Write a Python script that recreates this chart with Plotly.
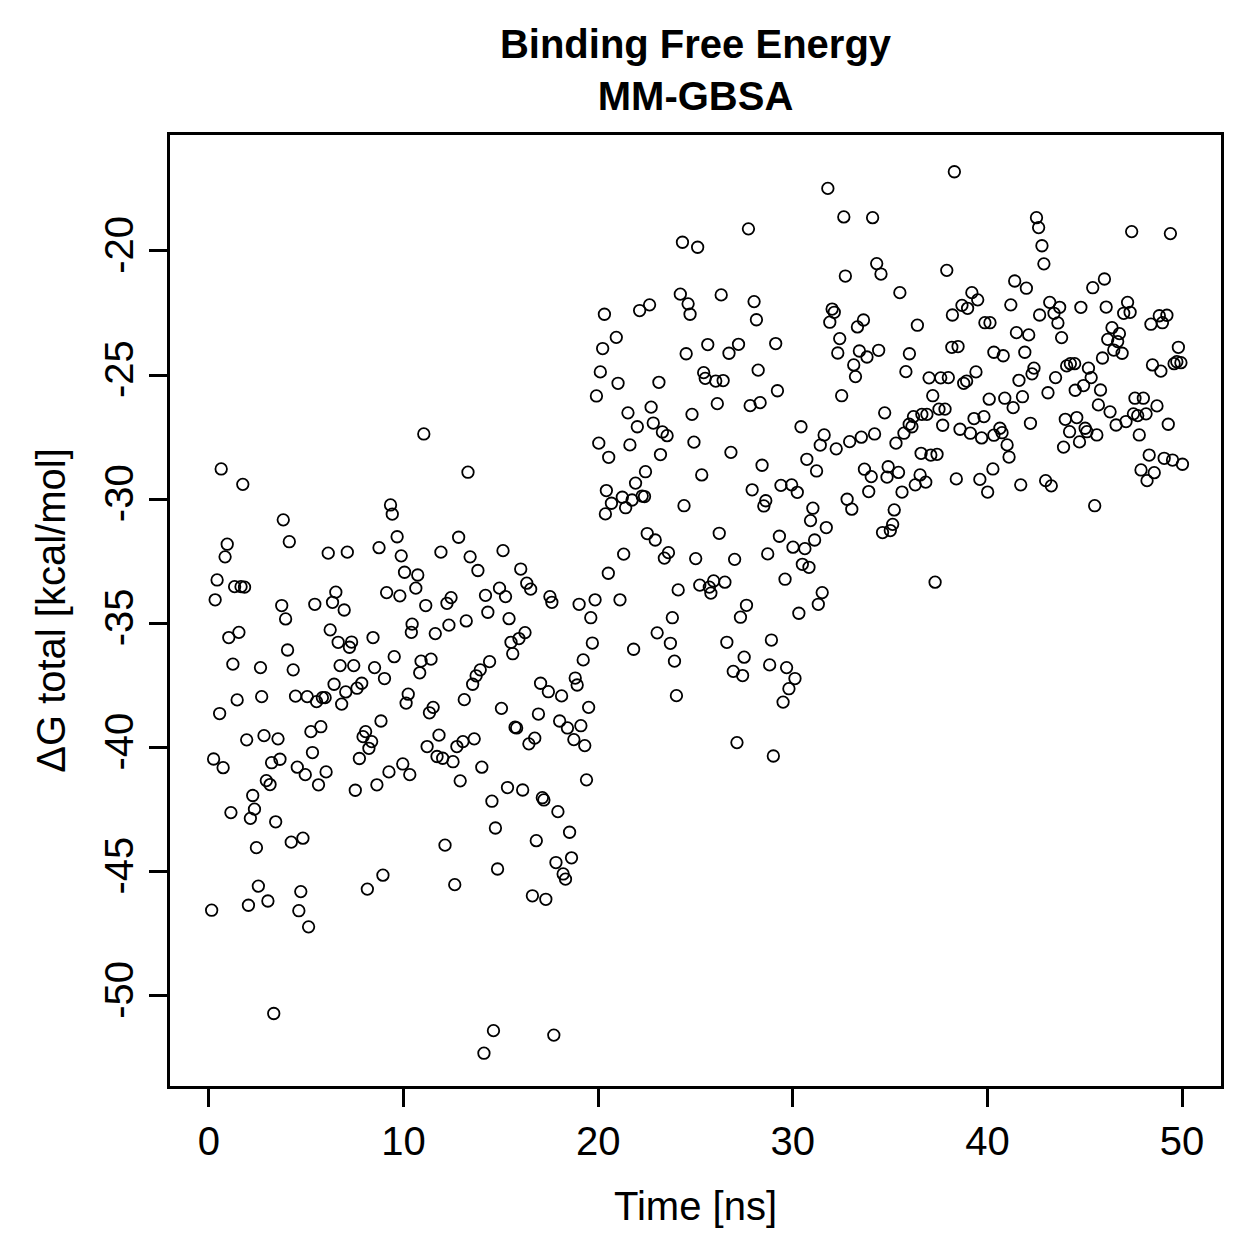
import plotly.graph_objects as go

# Time (ns) of each MM-GBSA frame
time_ns = [
    0.63, 1.74, 3.82, 4.13, 0.94, 0.83, 6.13, 7.11, 8.74, 9.33,
    9.42, 0.42, 0.32, 1.32, 1.65, 1.83, 3.74, 3.94, 5.44, 6.52,
    6.35, 6.95, 9.13, 6.23, 6.64, 7.33, 7.22, 8.43, 1.02, 1.54,
    4.04, 1.23, 2.65, 4.33, 6.74, 7.44, 8.51, 9.02, 9.52, 6.43,
    7.03, 7.61, 7.85, 6.82, 1.45, 2.71, 4.45, 5.05, 5.53, 5.83,
    5.97, 0.55, 8.84, 1.94, 2.83, 3.55, 5.24, 5.75, 8.05, 7.92,
    8.36, 8.22, 0.24, 0.73, 3.22, 3.65, 5.32, 4.54, 4.95, 6.02,
    5.63, 2.95, 3.14, 2.25, 1.13, 2.34, 2.13, 3.43, 2.44, 4.23,
    4.83, 7.73, 7.52, 8.63, 9.25, 9.96, 8.94, 8.14, 2.54, 2.03,
    3.03, 0.14, 4.72, 4.62, 5.12, 3.33, 11.04, 20.03, 20.54, 13.31,
    20.42, 20.68, 20.37, 12.83, 11.92, 13.42, 13.82, 15.11, 16.02, 16.33,
    16.53, 9.67, 9.88, 10.05, 10.73, 10.63, 9.81, 11.14, 12.23, 12.44,
    14.21, 14.93, 15.24, 14.33, 15.42, 17.52, 17.62, 19.02, 19.84, 19.62,
    20.52, 10.44, 10.40, 11.63, 12.33, 13.22, 15.52, 15.93, 16.24, 15.61,
    19.70, 19.23, 10.90, 11.41, 10.83, 14.42, 13.94, 13.73, 13.55, 18.82,
    18.92, 17.04, 17.44, 18.12, 10.24, 10.13, 13.12, 15.03, 11.52, 11.33,
    16.93, 19.51, 18.02, 18.42, 19.11, 18.75, 19.31, 15.73, 15.81, 16.74,
    16.44, 11.82, 11.21, 13.63, 13.05, 12.74, 11.72, 12.01, 12.54, 12.91,
    14.02, 15.34, 16.12, 17.13, 17.21, 17.93, 19.40, 14.54, 14.72, 18.53,
    16.82, 12.13, 18.63, 17.83, 18.20, 18.32, 14.83, 12.63, 16.62, 17.31,
    14.62, 17.72, 14.13, 10.32,
    27.72, 24.33, 25.11, 24.22, 24.62, 24.72, 26.32, 28.01, 28.13, 20.32,
    22.13, 22.64, 20.93, 20.23, 25.63, 24.52, 26.72, 27.21, 29.12, 20.11,
    21.02, 23.12, 25.42, 25.50, 26.04, 26.42, 28.22, 29.21, 19.91, 21.53,
    22.72, 24.82, 26.12, 27.81, 28.32, 22.01, 22.83, 23.30, 23.54, 21.63,
    24.92, 23.20, 26.82, 28.42, 22.43, 25.32, 21.92, 21.24, 21.74, 22.26,
    22.38, 21.41, 24.41, 27.91, 28.61, 28.51, 29.39, 22.52, 22.93, 26.22,
    21.31, 23.61, 23.40, 25.01, 27.01, 28.71, 29.31, 24.11, 25.22, 25.93,
    25.71, 25.79, 26.51, 29.60, 21.12, 27.62, 27.31, 23.81, 23.03, 23.71,
    21.82, 26.61, 28.90, 27.50, 23.92, 26.94, 27.42, 28.81, 29.68, 29.80,
    29.50, 24.02, 27.13, 29.00,
    38.30, 31.80, 32.62, 34.10, 34.31, 34.53, 32.70, 37.91, 35.50, 32.02,
    32.13, 31.90, 33.63, 33.32, 36.40, 32.41, 32.31, 33.42, 33.81, 34.41,
    33.13, 33.22, 35.99, 35.81, 32.51, 34.72, 30.42, 31.61, 31.41, 32.23,
    32.92, 33.52, 34.20, 30.72, 31.22, 33.68, 34.90, 35.30, 35.71, 35.98,
    36.12, 36.20, 36.63, 36.89, 37.51, 37.82, 37.70, 36.59, 37.09, 37.41,
    36.54, 38.40, 39.61, 38.59, 39.12, 39.70, 39.31, 39.82, 40.09, 37.00,
    37.60, 37.99, 38.78, 38.93, 39.41, 37.19, 38.17, 38.49, 38.20, 38.69,
    38.98, 39.20, 39.50, 39.87, 40.13, 40.33, 40.33, 40.28, 35.43, 34.03,
    34.84, 36.29, 36.83, 40.01, 29.94, 30.23, 33.90, 35.61, 32.79, 33.03,
    35.21, 31.03, 30.91, 31.72, 34.61, 35.01, 35.13, 31.12, 30.62, 30.01,
    30.49, 30.83, 37.31, 31.51, 31.31, 30.31, 30.11,
    42.52, 42.63, 42.80, 42.90, 47.41, 49.40, 41.40, 42.00, 46.01, 45.41,
    41.20, 43.20, 43.71, 42.68, 43.42, 43.62, 44.80, 46.10, 47.20, 47.00,
    47.33, 48.83, 49.22, 48.40, 48.99, 41.49, 42.12, 43.81, 46.40, 46.78,
    46.18, 46.69, 46.49, 46.92, 45.91, 49.81, 49.59, 49.73, 49.94, 48.48,
    48.91, 40.81, 41.92, 42.39, 42.29, 41.62, 43.50, 44.07, 44.26, 44.48,
    45.19, 45.33, 44.94, 44.51, 43.11, 45.81, 40.89, 41.32, 41.80, 45.70,
    46.30, 42.21, 44.00, 44.59, 44.22, 45.02, 45.11, 45.62, 44.73, 43.91,
    46.61, 47.12, 47.58, 48.01, 47.50, 47.72, 48.15, 48.71, 47.80, 49.29,
    40.64, 40.75, 41.01, 41.11, 48.31, 49.08, 49.51, 50.02, 47.89, 48.57,
    41.71, 42.99, 43.28, 45.51, 48.20,
]

# Delta G total (kcal/mol), same order as time_ns
dG_total = [
    -28.78, -29.40, -30.83, -31.71, -31.81, -32.32, -32.17, -32.13, -31.95, -30.23,
    -30.60, -33.25, -34.05, -33.52, -33.52, -33.54, -34.28, -34.82, -34.23, -33.74,
    -34.15, -34.46, -33.76, -35.26, -35.76, -35.75, -35.96, -35.57, -35.57, -35.36,
    -36.07, -36.64, -36.78, -36.87, -36.70, -36.70, -36.78, -37.22, -36.34, -37.45,
    -37.76, -37.61, -37.41, -38.25, -38.08, -37.95, -37.93, -37.95, -38.15, -37.99,
    -37.99, -38.63, -38.93, -39.69, -39.52, -39.65, -39.36, -39.16, -39.36, -39.56,
    -39.76, -40.03, -40.46, -40.81, -40.61, -40.47, -40.20, -40.79, -41.09, -40.98,
    -41.50, -41.33, -41.49, -41.93, -42.62, -42.48, -42.85, -42.99, -44.03, -43.81,
    -43.65, -40.44, -41.72, -41.50, -40.98, -40.66, -45.14, -45.70, -45.58, -46.35,
    -46.18, -46.55, -45.80, -46.57, -47.22, -50.71, -27.37, -27.74, -28.31, -28.91,
    -29.65, -30.16, -30.59, -31.53, -32.13, -32.32, -32.87, -32.07, -32.81, -33.38,
    -33.62, -31.51, -32.28, -32.94, -33.05, -33.58, -33.89, -34.28, -34.19, -33.96,
    -33.87, -33.58, -33.92, -34.55, -34.81, -33.92, -34.15, -34.23, -34.05, -34.77,
    -32.98, -35.03, -35.36, -35.41, -35.07, -34.90, -35.76, -35.61, -35.37, -36.22,
    -35.79, -36.47, -36.52, -36.44, -36.99, -36.54, -36.87, -37.11, -37.45, -37.20,
    -37.48, -37.41, -37.75, -37.92, -37.85, -38.21, -38.07, -38.42, -38.38, -38.60,
    -38.65, -38.38, -38.93, -39.21, -39.12, -39.68, -39.92, -39.18, -39.21, -39.62,
    -39.85, -39.50, -39.96, -39.65, -39.76, -39.96, -40.36, -40.43, -40.57, -41.34,
    -40.79, -41.61, -41.71, -42.02, -42.11, -42.58, -41.30, -42.16, -43.24, -43.41,
    -43.75, -43.93, -44.44, -44.63, -45.09, -45.30, -44.89, -45.52, -45.97, -46.11,
    -51.40, -51.58, -52.31, -41.09,
    -19.11, -19.65, -19.85, -21.74, -22.13, -22.55, -21.77, -22.04, -22.77, -22.55,
    -22.40, -22.17, -23.48, -23.93, -23.77, -24.14, -24.12, -23.76, -23.73, -24.87,
    -25.33, -25.29, -24.90, -25.13, -25.24, -25.22, -24.80, -25.63, -25.84, -26.52,
    -26.29, -26.58, -26.15, -26.23, -26.11, -27.08, -26.93, -27.29, -27.44, -27.81,
    -27.70, -28.20, -28.11, -28.63, -28.89, -29.02, -29.35, -29.92, -30.03, -29.87,
    -29.89, -30.34, -30.26, -29.62, -30.06, -30.27, -29.44, -31.38, -31.64, -31.37,
    -32.21, -32.15, -32.37, -32.39, -32.42, -32.20, -31.49, -33.65, -33.46, -33.29,
    -33.54, -33.78, -33.34, -33.22, -34.05, -34.27, -34.75, -34.77, -35.38, -35.80,
    -36.04, -35.76, -35.67, -36.36, -36.52, -36.93, -37.10, -36.67, -36.78, -37.63,
    -38.17, -37.91, -39.80, -40.34,
    -16.81, -17.48, -18.63, -18.66, -20.51, -20.93, -21.01, -20.78, -21.68, -22.34,
    -22.47, -22.87, -22.78, -23.06, -22.99, -23.53, -24.11, -24.03, -24.27, -24.00,
    -24.59, -25.06, -24.14, -24.86, -25.83, -26.52, -27.08, -27.41, -27.82, -27.97,
    -27.68, -27.50, -27.37, -28.39, -28.86, -28.79, -28.69, -27.74, -27.34, -26.98,
    -27.08, -26.67, -26.58, -26.58, -26.37, -26.37, -27.02, -28.15, -28.22, -28.19,
    -29.02, -29.18, -29.20, -27.18, -27.34, -27.53, -26.75, -26.67, -25.97, -25.11,
    -25.11, -25.10, -25.33, -25.24, -24.87, -25.83, -23.88, -23.85, -22.58, -22.19,
    -22.31, -21.68, -21.97, -22.89, -22.89, -24.08, -27.42, -28.78, -28.92, -29.09,
    -29.11, -29.42, -29.31, -29.71, -29.42, -29.72, -29.69, -29.71, -30.00, -30.40,
    -30.43, -30.36, -30.86, -31.14, -31.34, -31.26, -31.01, -31.64, -31.99, -31.93,
    -32.62, -32.74, -33.34, -33.76, -34.23, -34.59, -37.22,
    -18.66, -19.06, -19.79, -20.52, -19.22, -19.30, -21.21, -21.50, -21.13, -21.48,
    -22.17, -22.07, -22.27, -22.58, -22.51, -22.90, -22.27, -22.26, -22.07, -22.51,
    -22.47, -22.61, -22.59, -22.95, -22.89, -23.29, -23.38, -23.49, -23.09, -23.33,
    -23.56, -23.65, -23.99, -24.12, -24.31, -23.88, -24.54, -24.46, -24.50, -24.59,
    -24.84, -24.22, -24.08, -24.72, -24.95, -25.21, -25.10, -24.63, -24.54, -24.54,
    -24.72, -25.10, -25.42, -25.61, -25.71, -25.60, -25.93, -26.31, -25.87, -26.20,
    -26.48, -26.94, -26.78, -26.71, -27.28, -27.14, -27.28, -27.41, -27.69, -27.90,
    -27.01, -26.87, -25.93, -25.93, -26.56, -26.63, -26.56, -26.24, -27.41, -26.98,
    -27.14, -27.32, -27.81, -28.30, -28.22, -28.35, -28.42, -28.59, -28.82, -28.93,
    -29.42, -29.25, -29.46, -30.26, -29.25,
]

x_ticks = [0, 10, 20, 30, 40, 50]
y_ticks = [-20, -25, -30, -35, -40, -45, -50]
y_tick_text = ["-20", "-25", "-30", "-35", "-40", "-45", "-50"]

FONT = "Liberation Sans, Arial, Helvetica, sans-serif"

fig = go.Figure(
    go.Scatter(
        x=time_ns,
        y=dG_total,
        mode="markers",
        marker=dict(symbol="circle-open", size=11.5, color="black",
                    line=dict(width=1.8, color="black")),
        hoverinfo="x+y",
    )
)

axis_common = dict(
    showgrid=False, zeroline=False,
    showline=True, linecolor="black", linewidth=3, mirror=True,
    ticks="outside", ticklen=18, tickwidth=3, tickcolor="black",
    tickfont=dict(family=FONT, size=40, color="black"),
)

fig.update_layout(
    width=1259, height=1259,
    margin=dict(l=170, r=38, t=135, b=173),
    paper_bgcolor="white", plot_bgcolor="white",
    font=dict(family=FONT, size=40, color="black"),
    showlegend=False,
    title=dict(
        text="<b>Binding Free Energy<br>MM-GBSA</b>",
        xref="paper", x=0.5, xanchor="center",
        yref="container", y=0.954, yanchor="top",
        font=dict(family=FONT, size=40, color="black"),
    ),
    xaxis=dict(
        range=[-2, 52], tickvals=x_ticks,
        title=dict(text="Time [ns]", standoff=30,
                   font=dict(family=FONT, size=40, color="black")),
        **axis_common,
    ),
    yaxis=dict(
        range=[-53.63, -15.33], tickvals=y_ticks, ticktext=y_tick_text,
        tickangle=-90,
        title=dict(text="ΔG total [kcal/mol]", standoff=20,
                   font=dict(family=FONT, size=40, color="black")),
        **axis_common,
    ),
)

fig.write_html("out.html")
